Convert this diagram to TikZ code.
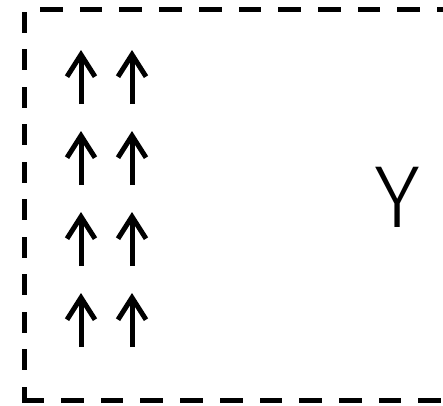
\documentclass[tikz,border=0pt]{standalone}
\usepackage{fontspec}
\newfontfamily\labelfont{Fira Sans Light}
\usetikzlibrary{arrows.meta}

\begin{document}
\begin{tikzpicture}[x=1pt, y=-1pt,
    frame/.style={line width=5pt, line cap=rect, dash pattern=on 17.7pt off 22pt},
    spin/.style={line width=5pt, -{Straight Barb[length=22pt, width=28pt]}}]
  \useasboundingbox (0,0) rectangle (443,405);
  % dashed box, open on the right
  \draw[frame, dash phase=21.2pt] (24,9) -- (450,9);
  \draw[frame, dash pattern=on 16pt off 21.5pt, dash phase=32.3pt] (24,9) -- (24,400);
  \draw[frame, dash phase=0.2pt] (24,400) -- (450,400);
  % two columns of up arrows
  \foreach \i in {0,...,3}
    \foreach \x in {81,132}
      \draw[spin] (\x,{104+81*\i}) -- (\x,{50+81*\i});
  \node[anchor=base, inner sep=0pt, font=\labelfont\fontsize{88}{88}\selectfont] (ylabel) at (398,227) {Y};
\end{tikzpicture}
\end{document}
